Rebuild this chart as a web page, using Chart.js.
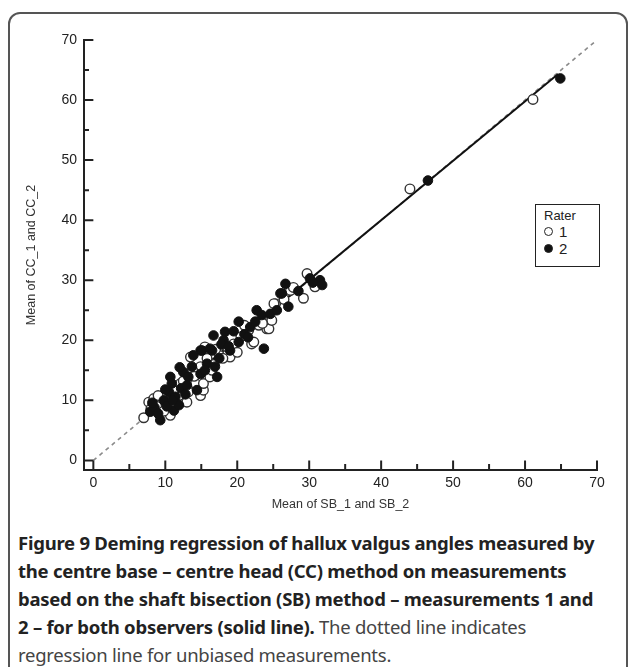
<!DOCTYPE html>
<html>
<head>
<meta charset="utf-8">
<script src="https://cdn.jsdelivr.net/npm/chart.js@4.4.1/dist/chart.umd.min.js"></script>
<style>
    body { margin: 0; background: #fff; width: 629px; height: 667px; overflow: hidden; position: relative; }
    #frame { position: absolute; left: 8px; top: 12px; width: 620px; height: 700px; border: 2px solid #555; border-radius: 12px; box-sizing: border-box; }
    #chart { position: absolute; left: 0; top: 0; }
    #legend { position: absolute; left: 535px; top: 204px; width: 65px; height: 63px; border: 1.5px solid #222; box-sizing: border-box; background: #fff;
              font-family: "Liberation Sans", Arial, sans-serif; color: #222; font-size: 13px; padding: 3px 0 0 8px; }
    #legend .row { height: 17px; line-height: 17px; font-size: 15px; }
    #legend .dot { display: inline-block; width: 7px; height: 7px; border-radius: 50%; border: 1.3px solid #222; margin-right: 6px; vertical-align: 1px; }
    #caption { position: absolute; left: 18px; top: 529px; font-family: "Noto Sans", "Open Sans", sans-serif; font-size: 18.5px; line-height: 28px; color: #444; letter-spacing: -0.25px; white-space: nowrap; }
    #caption b { color: #222; }
</style>
</head>
<body>
<div id="frame"></div>
<canvas id="chart" width="629" height="520"></canvas>
<div id="legend">
    <div>Rater</div>
    <div class="row"><span class="dot" style="background:#fff"></span>1</div>
    <div class="row"><span class="dot" style="background:#111"></span>2</div>
</div>
<div id="caption">
    <b>Figure 9 Deming regression of hallux valgus angles measured by</b><br>
    <b>the centre base – centre head (CC) method on measurements</b><br>
    <b>based on the shaft bisection (SB) method – measurements 1 and</b><br>
    <b>2 – for both observers (solid line).</b> The dotted line indicates<br>
    regression line for unbiased measurements.
</div>
<script>
// Rater 1 (open circles): mean of SB_1/SB_2 vs mean of CC_1/CC_2
const rater1X = [7.0, 7.7, 8.4, 9.5, 8.8, 10.7, 11.9, 12.1, 13.0, 13.2, 13.5, 14.2, 14.9, 15.3, 15.3, 14.9, 15.8, 15.5, 16.2, 18.6,
                 19.5, 19.0, 17.5, 21.6, 22.0, 24.1, 24.6, 25.3, 24.4, 22.3, 24.8, 25.1, 27.4, 29.7, 30.8, 29.2, 10.0, 12.5, 16.8, 20.5,
                 26.5, 11.2, 13.8, 18.0, 9.0, 23.0, 8.0, 9.8, 11.5, 14.0, 17.0, 20.0, 21.0, 23.5, 27.8, 16.5, 44.0, 61.1];
const rater1Y = [7.1, 9.7, 10.3, 10.0, 9.0, 7.5, 10.8, 12.8, 9.7, 11.4, 17.2, 12.8, 10.8, 11.7, 12.8, 15.6, 17.0, 18.9, 13.9, 18.9,
                 19.4, 17.2, 17.5, 21.7, 19.4, 21.9, 23.3, 26.1, 21.9, 19.7, 23.3, 26.1, 28.3, 31.1, 28.9, 27.0, 11.2, 13.2, 16.0, 20.6,
                 26.8, 11.6, 15.0, 17.0, 10.8, 22.5, 8.6, 8.2, 9.5, 14.0, 18.5, 18.0, 22.5, 22.8, 28.8, 15.0, 45.2, 60.1];

// Rater 2 (filled circles)
const rater2X = [9.3, 7.9, 10.7, 10.9, 10.5, 11.4, 11.2, 11.9, 12.5, 13.2, 13.7, 13.9, 14.4, 14.9, 15.8, 14.9, 16.5, 16.7, 17.2, 16.9,
                 20.2, 18.3, 18.1, 19.0, 20.2, 21.8, 22.7, 22.5, 23.7, 23.4, 24.6, 26.0, 26.7, 26.2, 30.1, 31.5, 31.8, 27.1, 15.1, 16.2,
                 8.5, 9.8, 10.2, 12.2, 12.8, 19.5, 21.0, 17.8, 8.2, 9.0, 10.0, 11.0, 12.0, 13.0, 15.5, 17.5, 18.8, 21.5, 25.5, 28.5,
                 30.5, 46.5, 64.9];
const rater2Y = [6.7, 8.1, 13.9, 12.8, 11.4, 10.6, 8.3, 9.2, 14.7, 13.9, 15.6, 17.5, 11.7, 14.4, 16.1, 18.3, 18.3, 20.8, 13.9, 15.6,
                 23.1, 21.4, 20.0, 18.3, 19.7, 22.2, 25.0, 23.1, 18.6, 24.2, 24.4, 27.8, 29.4, 27.8, 30.3, 30.0, 29.2, 25.6, 18.3, 18.6,
                 8.8, 10.0, 9.0, 12.0, 11.0, 21.5, 21.0, 19.3, 9.6, 7.8, 11.8, 10.0, 15.5, 12.5, 15.0, 17.0, 19.0, 20.5, 25.0, 28.2,
                 29.6, 46.6, 63.6];

// Deming regression line (solid) and line of identity (dotted)
const fitX = [7.0, 64.6];
const fitY = [7.33, 64.35];
const identityX = [0, 70];
const identityY = [0, 70];

// Axis ticks
const majorTicks = [0, 10, 20, 30, 40, 50, 60, 70];
const minorTicks = [5, 15, 25, 35, 45, 55, 65];

const xTitle = 'Mean of SB_1 and SB_2';
const yTitle = 'Mean of CC_1 and CC_2';

function toPoints(xs, ys) {
    return xs.map((x, i) => ({ x: x, y: ys[i] }));
}

// Offset axes with inward ticks, as in the original figure
const offsetAxes = {
    id: 'offsetAxes',
    afterDraw(chart) {
        const { ctx, chartArea, scales } = chart;
        const xs = scales.x, ys = scales.y;
        const left = chartArea.left, bottom = chartArea.bottom;
        ctx.save();
        ctx.strokeStyle = '#222';
        ctx.lineWidth = 2;
        ctx.lineCap = 'butt';
        ctx.beginPath();
        ctx.moveTo(left, ys.getPixelForValue(70) - 1);
        ctx.lineTo(left, bottom);
        ctx.lineTo(xs.getPixelForValue(70) + 1, bottom);
        ctx.stroke();

        ctx.beginPath();
        majorTicks.forEach(v => {
            const px = xs.getPixelForValue(v);
            ctx.moveTo(px, bottom);
            ctx.lineTo(px, ys.getPixelForValue(0));
            const py = ys.getPixelForValue(v);
            ctx.moveTo(left, py);
            ctx.lineTo(xs.getPixelForValue(0), py);
        });
        minorTicks.forEach(v => {
            const px = xs.getPixelForValue(v);
            ctx.moveTo(px, bottom);
            ctx.lineTo(px, bottom - 6);
            const py = ys.getPixelForValue(v);
            ctx.moveTo(left, py);
            ctx.lineTo(left + 5, py);
        });
        ctx.stroke();
        ctx.restore();
    }
};

const tickFont = { family: '"Liberation Sans", Arial, sans-serif', size: 14 };
const titleFont = { family: '"Liberation Sans", Arial, sans-serif', size: 12.5 };

new Chart(document.getElementById('chart'), {
    type: 'scatter',
    data: {
        datasets: [
            {
                label: 'Unbiased',
                type: 'line',
                data: toPoints(identityX, identityY),
                borderColor: '#8a8a8a',
                borderWidth: 1.6,
                borderDash: [4, 4],
                pointRadius: 0,
                fill: false,
                order: 4
            },
            {
                label: 'Deming',
                type: 'line',
                data: toPoints(fitX, fitY),
                borderColor: '#111',
                borderWidth: 2,
                pointRadius: 0,
                fill: false,
                order: 3
            },
            {
                label: '1',
                data: toPoints(rater1X, rater1Y),
                pointRadius: 4.8,
                backgroundColor: '#fff',
                borderColor: '#333',
                borderWidth: 1.4,
                order: 2
            },
            {
                label: '2',
                data: toPoints(rater2X, rater2Y),
                pointRadius: 4.8,
                backgroundColor: '#111',
                borderColor: '#111',
                borderWidth: 1,
                order: 1
            }
        ]
    },
    options: {
        responsive: false,
        animation: false,
        devicePixelRatio: 1,
        layout: { padding: { left: 0, top: 40, right: 32, bottom: 0 } },
        plugins: {
            legend: { display: false },
            tooltip: { enabled: false }
        },
        scales: {
            x: {
                type: 'linear',
                min: -1.3,
                max: 70,
                grid: { display: false, drawTicks: false },
                border: { display: false },
                afterBuildTicks: (scale) => { scale.ticks = majorTicks.map(v => ({ value: v })); },
                afterFit: (scale) => { scale.height = 50; },
                ticks: { color: '#222', font: tickFont, padding: 5, maxRotation: 0 },
                title: { display: true, text: xTitle, color: '#333', font: titleFont, padding: { top: 0, bottom: 8 } }
            },
            y: {
                type: 'linear',
                min: -1.6,
                max: 70,
                grid: { display: false, drawTicks: false },
                border: { display: false },
                afterBuildTicks: (scale) => { scale.ticks = majorTicks.map(v => ({ value: v })); },
                afterFit: (scale) => { scale.width = 84; },
                ticks: { color: '#222', font: tickFont, padding: 7 },
                title: { display: true, text: yTitle, color: '#333', font: titleFont, padding: { top: 24, bottom: 0 } }
            }
        }
    },
    plugins: [offsetAxes]
});
</script>
</body>
</html>
